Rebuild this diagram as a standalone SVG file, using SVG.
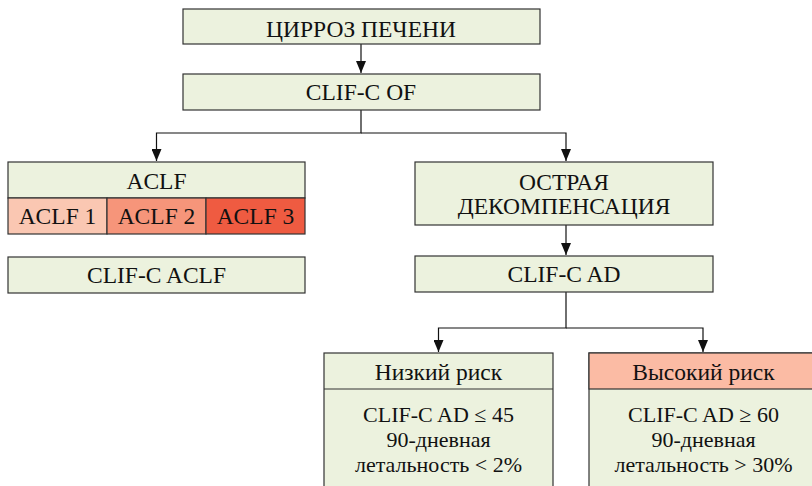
<svg xmlns="http://www.w3.org/2000/svg" width="812" height="486" viewBox="0 0 812 486">
<defs>
<style>
.b{fill:#ecf2de;stroke:#333;stroke-width:1.2}
.t{font-family:"Liberation Serif","DejaVu Serif",serif;font-size:23.5px;fill:#111;text-anchor:middle}
.s{font-size:22px}
.c{fill:none;stroke:#111;stroke-width:1.2}
</style>
<marker id="a" viewBox="0 0 12 10" refX="12" refY="5" markerWidth="12" markerHeight="10" markerUnits="userSpaceOnUse" orient="auto">
<path d="M0,0 L12,5 L0,10 Z" fill="#111"/>
</marker>
</defs>
<rect width="812" height="486" fill="#fff"/>
<g id="connectors">
<path class="c" d="M361,44 V73" marker-end="url(#a)"/>
<path class="c" d="M361,110 V133 H156.5 V161" marker-end="url(#a)"/>
<path class="c" d="M361,133 H566 V161" marker-end="url(#a)"/>
<path class="c" d="M566,225 V255" marker-end="url(#a)"/>
<path class="c" d="M566,292 V328 H438.5 V352" marker-end="url(#a)"/>
<path class="c" d="M566,328 H703 V352" marker-end="url(#a)"/>
</g>
<g id="cirrhosis">
<rect class="b" x="183" y="9" width="357" height="35"/>
<text class="t" x="361" y="37">ЦИРРОЗ ПЕЧЕНИ</text>
</g>
<g id="clifcof">
<rect class="b" x="183" y="74" width="357" height="36"/>
<text class="t" x="361" y="100">CLIF-C OF</text>
</g>
<g id="aclf">
<rect class="b" x="8" y="162" width="297" height="36"/>
<text class="t" x="156.5" y="189">ACLF</text>
<rect x="8" y="198" width="99" height="36" fill="#fac7b2" stroke="#333" stroke-width="1.2"/>
<text class="t" x="57.5" y="224">ACLF 1</text>
<rect x="107" y="198" width="99" height="36" fill="#f6957a" stroke="#333" stroke-width="1.2"/>
<text class="t" x="156.5" y="224">ACLF 2</text>
<rect x="206" y="198" width="99" height="36" fill="#ef5b41" stroke="#333" stroke-width="1.2"/>
<text class="t" x="255.5" y="224">ACLF 3</text>
</g>
<g id="clifcaclf">
<rect class="b" x="8" y="257" width="297" height="36"/>
<text class="t" x="156.5" y="283">CLIF-C ACLF</text>
</g>
<g id="ad">
<rect class="b" x="415" y="162" width="298" height="63"/>
<text class="t" x="564" y="190">ОСТРАЯ</text>
<text class="t" x="564" y="214">ДЕКОМПЕНСАЦИЯ</text>
</g>
<g id="clifcad">
<rect class="b" x="415" y="256" width="298" height="36"/>
<text class="t" x="564" y="282">CLIF-C AD</text>
</g>
<g id="lowrisk">
<rect class="b" x="324" y="353" width="229" height="150"/>
<line x1="324" y1="389" x2="553" y2="389" stroke="#333" stroke-width="1.2"/>
<text class="t" x="438.5" y="380">Низкий риск</text>
<text class="t s" x="438.5" y="422">CLIF-C AD ≤ 45</text>
<text class="t s" x="438.5" y="447">90-дневная</text>
<text class="t s" x="438.5" y="472">летальность &lt; 2%</text>
</g>
<g id="highrisk">
<rect class="b" x="589" y="353" width="229" height="150"/>
<rect x="589" y="353" width="229" height="36" fill="#fbbba4" stroke="#333" stroke-width="1.2"/>
<text class="t" x="703.5" y="380">Высокий риск</text>
<text class="t s" x="703.5" y="422">CLIF-C AD ≥ 60</text>
<text class="t s" x="703.5" y="447">90-дневная</text>
<text class="t s" x="703.5" y="472">летальность &gt; 30%</text>
</g>
</svg>
